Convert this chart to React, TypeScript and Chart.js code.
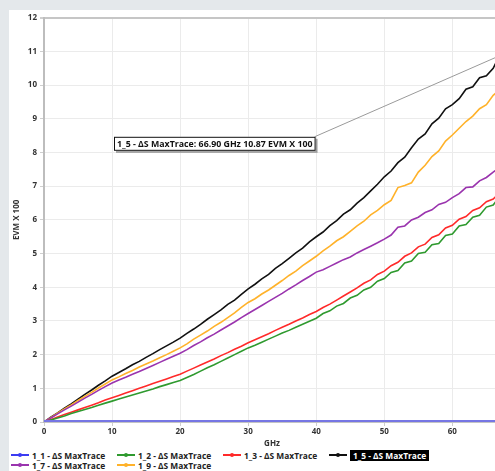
import React, { useEffect, useRef } from "react";
import { Chart, registerables } from "chart.js";

Chart.register(...registerables);

const freqGHz = [
  0, 1, 2, 3, 4, 5, 6, 7, 8, 9, 10, 11, 12, 13, 14, 15, 16, 17, 18, 19, 20,
  21, 22, 23, 24, 25, 26, 27, 28, 29, 30, 31, 32, 33, 34, 35, 36, 37, 38, 39, 40,
  41, 42, 43, 44, 45, 46, 47, 48, 49, 50, 51, 52, 53, 54, 55, 56, 57, 58, 59, 60,
  61, 62, 63, 64, 65, 66, 66.9,
];

const s1_2 = [
  0, 0.06, 0.12, 0.18, 0.25, 0.31, 0.37, 0.43, 0.5, 0.56, 0.62, 0.68, 0.74, 0.8, 0.86, 0.92, 0.98, 1.05, 1.11, 1.17, 1.23,
  1.32, 1.41, 1.51, 1.61, 1.7, 1.8, 1.9, 2.0, 2.1, 2.2, 2.28, 2.37, 2.46, 2.55, 2.64, 2.72, 2.81, 2.9, 2.99, 3.08,
  3.22, 3.3, 3.44, 3.52, 3.68, 3.76, 3.92, 4.0, 4.18, 4.26, 4.44, 4.5, 4.72, 4.78, 5.0, 5.04, 5.26, 5.3, 5.54, 5.58,
  5.82, 5.86, 6.08, 6.14, 6.38, 6.44, 6.68,
];

const s1_3 = [
  0, 0.07, 0.15, 0.22, 0.29, 0.36, 0.43, 0.5, 0.57, 0.65, 0.72, 0.79, 0.86, 0.93, 1.0, 1.07, 1.14, 1.21, 1.28, 1.35, 1.42,
  1.51, 1.6, 1.69, 1.78, 1.87, 1.97, 2.06, 2.16, 2.25, 2.35, 2.44, 2.53, 2.62, 2.72, 2.81, 2.9, 3.0, 3.09, 3.19, 3.28,
  3.4, 3.5, 3.62, 3.74, 3.86, 3.98, 4.12, 4.22, 4.38, 4.48, 4.64, 4.74, 4.92, 5.02, 5.2, 5.28, 5.48, 5.56, 5.76, 5.84,
  6.02, 6.1, 6.28, 6.36, 6.54, 6.62, 6.8,
];

const s1_5 = [
  0, 0.14, 0.27, 0.41, 0.54, 0.68, 0.82, 0.95, 1.09, 1.22, 1.36, 1.47, 1.58, 1.7, 1.8, 1.92, 2.03, 2.15, 2.26, 2.37, 2.49,
  2.63, 2.76, 2.9, 3.05, 3.19, 3.33, 3.49, 3.62, 3.79, 3.95, 4.09, 4.25, 4.38, 4.56, 4.7, 4.86, 5.02, 5.16, 5.35, 5.5,
  5.64, 5.83, 5.98, 6.17, 6.3, 6.5, 6.66, 6.86, 7.06, 7.28, 7.45, 7.7, 7.86, 8.14, 8.4, 8.55, 8.85, 9.02, 9.3, 9.42,
  9.6, 9.88, 9.95, 10.22, 10.28, 10.5, 10.87,
];

const s1_7 = [
  0, 0.12, 0.24, 0.36, 0.47, 0.59, 0.71, 0.82, 0.94, 1.05, 1.16, 1.25, 1.33, 1.42, 1.5, 1.59, 1.68, 1.77, 1.86, 1.95, 2.04,
  2.15, 2.27, 2.38, 2.5, 2.61, 2.73, 2.85, 2.97, 3.1, 3.22, 3.34, 3.46, 3.58, 3.7, 3.82, 3.95, 4.07, 4.2, 4.32, 4.45,
  4.52, 4.62, 4.72, 4.82, 4.9, 5.02, 5.12, 5.22, 5.32, 5.43, 5.55, 5.78, 5.82, 6.0, 6.08, 6.22, 6.3, 6.46, 6.52, 6.66,
  6.78, 6.96, 6.98, 7.16, 7.26, 7.42, 7.55,
];

const s1_9 = [
  0, 0.13, 0.26, 0.39, 0.51, 0.64, 0.76, 0.88, 1.01, 1.13, 1.25, 1.34, 1.44, 1.53, 1.63, 1.72, 1.81, 1.91, 2.0, 2.1, 2.2,
  2.32, 2.46, 2.58, 2.7, 2.84, 2.96, 3.1, 3.24, 3.4, 3.55, 3.66, 3.8, 3.92, 4.06, 4.2, 4.35, 4.48, 4.64, 4.78, 4.92,
  5.08, 5.22, 5.38, 5.5, 5.66, 5.82, 5.96, 6.15, 6.28, 6.45, 6.58, 6.96, 7.02, 7.1, 7.42, 7.62, 7.88, 8.05, 8.34, 8.52,
  8.72, 8.92, 9.08, 9.3, 9.42, 9.7, 9.85,
];

const blueFreq = [0, 66.9];
const s1_1 = [0.02, 0.02];

const seriesLabels = [
  "1_1 - ΔS MaxTrace",
  "1_2 - ΔS MaxTrace",
  "1_3 - ΔS MaxTrace",
  "1_5 - ΔS MaxTrace",
  "1_7 - ΔS MaxTrace",
  "1_9 - ΔS MaxTrace",
];
const seriesColors = ["#7676e4", "#2f9a2f", "#ff2a2a", "#111111", "#9a34ae", "#ffb22a"];
const legendColors = ["#3b3bf2", "#2f9a2f", "#ff2a2a", "#111111", "#9a34ae", "#ffb22a"];
const highlightedIndex = 3;
const legendRows = [
  [0, 1, 2, 3],
  [4, 5],
];

const xTicks = [0, 10, 20, 30, 40, 50, 60];
const yTicks = [0, 1, 2, 3, 4, 5, 6, 7, 8, 9, 10, 11, 12];
const xTitle = "GHz";
const yTitle = "EVM X 100";

const FONT = "'Open Sans', 'DejaVu Sans', sans-serif";

function pts(xs: number[], ys: number[]) {
  return xs.map((x, i) => ({ x, y: ys[i] }));
}

const tooltipPlugin = {
  id: "fixedTooltip",
  afterDatasetsDraw(chart: any) {
    const { ctx, chartArea, scales } = chart;
    const lastIdx = freqGHz.length - 1;
    const fx = freqGHz[lastIdx];
    const fy = s1_5[lastIdx];
    const px = scales.x.getPixelForValue(fx);
    const py = scales.y.getPixelForValue(fy);
    const text = `${seriesLabels[highlightedIndex]}: ${fx.toFixed(2)} GHz ${fy.toFixed(2)} ${yTitle}`;
    ctx.save();
    ctx.font = `bold 8.8px ${FONT}`;
    const tw = ctx.measureText(text).width;
    const bx = chartArea.left + 70;
    const by = chartArea.top + 119;
    const bw = tw + 6;
    const bh = 14;
    ctx.strokeStyle = "#9a9a9a";
    ctx.lineWidth = 1;
    ctx.beginPath();
    ctx.moveTo(bx + bw - 1, by);
    ctx.lineTo(px, py);
    ctx.stroke();
    ctx.fillStyle = "rgba(0,0,0,0.35)";
    ctx.fillRect(bx + 2, by + 2, bw, bh);
    ctx.fillStyle = "#ffffff";
    ctx.fillRect(bx, by, bw, bh);
    ctx.strokeStyle = "#111";
    ctx.lineWidth = 1;
    ctx.strokeRect(bx + 0.5, by + 0.5, bw - 1, bh - 1);
    ctx.fillStyle = "#111";
    ctx.textBaseline = "middle";
    ctx.textAlign = "left";
    ctx.fillText(text, bx + 3, by + bh / 2 + 0.5);
    ctx.restore();
  },
};

function LegendItem({ i }: { i: number }) {
  const hl = i === highlightedIndex;
  return (
    <div style={{ display: "flex", alignItems: "center", width: hl ? 120 : 106, height: 10, flex: "none" }}>
      <span style={{ position: "relative", width: 18, height: 10, display: "inline-block", flex: "none" }}>
        <span
          style={{
            position: "absolute",
            left: 0,
            top: 4,
            width: 18,
            height: 2,
            background: legendColors[i],
          }}
        />
        <span
          style={{
            position: "absolute",
            left: 7,
            top: 3,
            width: 4,
            height: 4,
            borderRadius: 2,
            background: legendColors[i],
          }}
        />
      </span>
      <span
        style={{
          marginLeft: 3,
          padding: hl ? "0 3px" : 0,
          background: hl ? "#000" : "transparent",
          color: hl ? "#fff" : "#222",
          lineHeight: "11px",
          whiteSpace: "nowrap",
        }}
      >
        {seriesLabels[i]}
      </span>
    </div>
  );
}

export default function App() {
  const ref = useRef<HTMLCanvasElement>(null);

  useEffect(() => {
    if (!ref.current) return;
    const seriesData = [pts(blueFreq, s1_1), pts(freqGHz, s1_2), pts(freqGHz, s1_3), pts(freqGHz, s1_5), pts(freqGHz, s1_7), pts(freqGHz, s1_9)];
    const order = [0, 1, 2, 4, 5, 3];
    const datasets = order.map((i) => ({
      label: seriesLabels[i],
      data: seriesData[i],
      borderColor: seriesColors[i],
      backgroundColor: seriesColors[i],
      borderWidth: i === 0 ? 2.5 : 1.6,
      pointRadius: 0,
      tension: 0,
      fill: false,
    }));
    const tickFont = { family: FONT, size: 8, weight: "bold" as const };
    const chart = new Chart(ref.current, {
      type: "line",
      data: { datasets },
      options: {
        animation: false,
        responsive: false,
        maintainAspectRatio: false,
        layout: { padding: { top: 7, right: 9, left: 0, bottom: 0 } },
        plugins: {
          legend: { display: false },
          tooltip: { enabled: false },
        },
        events: [],
        scales: {
          x: {
            type: "linear",
            min: xTicks[0],
            max: 67,
            afterBuildTicks: (s: any) => {
              s.ticks = xTicks.map((v) => ({ value: v }));
            },
            afterFit: (s: any) => {
              s.height = 27;
            },
            ticks: { font: tickFont, color: "#333", padding: 1, maxRotation: 0 },
            grid: { color: "#ebebeb", tickLength: 4, tickColor: "#cfcfcf" },
            border: { color: "#c4c4c4", width: 2 },
            title: {
              display: true,
              text: xTitle,
              font: tickFont,
              color: "#333",
              padding: { top: 0, bottom: 0 },
            },
          },
          y: {
            min: yTicks[0],
            max: yTicks[yTicks.length - 1],
            afterBuildTicks: (s: any) => {
              s.ticks = yTicks.map((v) => ({ value: v }));
            },
            afterFit: (s: any) => {
              s.width = 35;
            },
            ticks: { font: tickFont, color: "#333", padding: 3 },
            grid: {
              color: (c: any) => (c.tick && c.tick.value === 12 ? "#c6c6c6" : "#ebebeb"),
              lineWidth: (c: any) => (c.tick && c.tick.value === 12 ? 2 : 1),
              tickLength: 4,
              tickColor: "#cfcfcf",
            },
            border: { color: "#bdbdbd", width: 2 },
            title: {
              display: true,
              text: yTitle,
              font: tickFont,
              color: "#333",
              padding: { top: 3, bottom: 0 },
            },
          },
        },
      },
      plugins: [tooltipPlugin],
    });
    return () => chart.destroy();
  }, []);

  return (
    <div
      style={{
        position: "fixed",
        left: 0,
        top: 0,
        width: "100vw",
        height: "100vh",
        overflow: "hidden",
        background: "#e4e8eb",
        fontFamily: FONT,
      }}
    >
      <div
        style={{
          position: "absolute",
          left: 9,
          top: 10,
          width: 700,
          height: 700,
          background: "#ffffff",
        }}
      >
        <canvas ref={ref} width={500} height={439} style={{ display: "block", width: 500, height: 439 }} />
        <div
          style={{
            position: "absolute",
            left: 2,
            top: 440,
            fontSize: 8.4,
            fontWeight: "bold",
          }}
        >
          {legendRows.map((row, r) => (
            <div key={r} style={{ display: "flex", height: 10 }}>
              {row.map((i) => (
                <LegendItem key={i} i={i} />
              ))}
            </div>
          ))}
        </div>
      </div>
    </div>
  );
}
